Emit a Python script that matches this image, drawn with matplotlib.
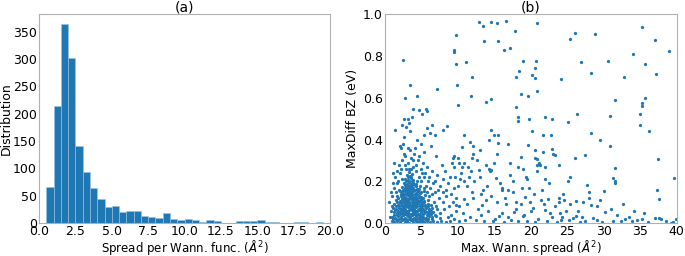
import numpy as np
import matplotlib
matplotlib.use("Agg")
import matplotlib.pyplot as plt

# ── (a) histogram of spread per Wannier function ─────────────
bin_edges = np.arange(0.5, 20.01, 0.5)
bin_counts = [67, 215, 363, 301, 141, 93, 64, 44, 30, 32,
              21, 22, 22, 14, 11, 9, 19, 8, 6, 8,
              6, 3, 5, 4, 0, 0, 4, 4, 4, 6,
              2, 3, 0, 0, 3, 2, 1, 3, 0]

# ── (b) scatter: max spread vs MaxDiff BZ ───────────────────
# dense cluster near small spreads
core = [
    (0.9, 0.01), (1.3, 0.005), (1.7, 0.012), (2.1, 0.004), (2.4, 0.015), (2.7, 0.006), (3.0, 0.011),
    (3.3, 0.003), (3.6, 0.014), (3.9, 0.007), (4.2, 0.012), (4.5, 0.004), (4.8, 0.009), (5.1, 0.013),
    (5.4, 0.005), (5.8, 0.010), (6.2, 0.004), (6.6, 0.012), (7.1, 0.006), (7.7, 0.009), (8.3, 0.004),
    (8.9, 0.011),
    (1.0, 0.032), (1.4, 0.027), (1.8, 0.035), (2.2, 0.029), (2.5, 0.038), (2.8, 0.026), (3.1, 0.034),
    (3.4, 0.030), (3.7, 0.039), (4.0, 0.025), (4.3, 0.033), (4.6, 0.028), (4.9, 0.036), (5.2, 0.031),
    (5.6, 0.027), (6.0, 0.035), (6.5, 0.029), (7.0, 0.033), (7.6, 0.026),
    (1.2, 0.052), (1.6, 0.048), (2.0, 0.055), (2.3, 0.047), (2.6, 0.053), (2.9, 0.049), (3.2, 0.056),
    (3.5, 0.046), (3.8, 0.054), (4.1, 0.050), (4.4, 0.057), (4.7, 0.045), (5.0, 0.052), (5.3, 0.048),
    (5.7, 0.055), (6.1, 0.049), (6.6, 0.053),
    (1.1, 0.072), (1.5, 0.068), (1.9, 0.075), (2.2, 0.066), (2.5, 0.073), (2.8, 0.069), (3.1, 0.076),
    (3.4, 0.067), (3.7, 0.074), (4.0, 0.070), (4.3, 0.077), (4.6, 0.066), (4.9, 0.072), (5.2, 0.069),
    (5.6, 0.074), (6.0, 0.067), (6.4, 0.071), (7.2, 0.068),
    (1.3, 0.092), (1.8, 0.088), (2.1, 0.095), (2.4, 0.087), (2.7, 0.093), (3.0, 0.089), (3.3, 0.096),
    (3.6, 0.086), (3.9, 0.094), (4.2, 0.090), (4.5, 0.097), (4.8, 0.088), (5.1, 0.093), (5.5, 0.087),
    (5.9, 0.092), (6.3, 0.089),
    (1.5, 0.112), (2.0, 0.108), (2.3, 0.115), (2.6, 0.107), (2.9, 0.113), (3.2, 0.109), (3.5, 0.116),
    (3.8, 0.106), (4.1, 0.114), (4.4, 0.110), (4.7, 0.105), (5.0, 0.113), (5.4, 0.108), (5.9, 0.111),
    (1.7, 0.132), (2.2, 0.128), (2.5, 0.135), (2.8, 0.127), (3.1, 0.133), (3.4, 0.129), (3.7, 0.136),
    (4.0, 0.126), (4.3, 0.134), (4.6, 0.130), (5.0, 0.127), (5.5, 0.133),
    (2.0, 0.152), (2.4, 0.148), (2.7, 0.155), (3.0, 0.147), (3.3, 0.153), (3.6, 0.149), (3.9, 0.156),
    (4.2, 0.146), (4.5, 0.152), (4.9, 0.148), (5.3, 0.155),
    (2.3, 0.172), (2.7, 0.168), (3.0, 0.175), (3.3, 0.167), (3.6, 0.173), (3.9, 0.169), (4.2, 0.176),
    (4.6, 0.166),
    (2.6, 0.192), (3.0, 0.188), (3.3, 0.195), (3.6, 0.187), (3.9, 0.193), (4.3, 0.189),
    (2.8, 0.212), (3.2, 0.208), (3.5, 0.215), (3.9, 0.207),
    (3.0, 0.232), (3.4, 0.228), (3.7, 0.235),
]

# points in between the rows of the cluster, to fill it in
core_fill = [
    (1.15, 0.020), (1.55, 0.018), (1.95, 0.022), (2.35, 0.020), (2.65, 0.019), (2.95, 0.021),
    (3.25, 0.018), (3.55, 0.022), (3.85, 0.020), (4.15, 0.019), (4.45, 0.021), (4.75, 0.018),
    (5.05, 0.022), (5.45, 0.020), (5.95, 0.019), (6.45, 0.021),
    (1.25, 0.041), (1.65, 0.040), (2.05, 0.043), (2.45, 0.041), (2.75, 0.042), (3.05, 0.040),
    (3.35, 0.043), (3.65, 0.041), (3.95, 0.042), (4.25, 0.040), (4.55, 0.043), (4.85, 0.041),
    (5.25, 0.042), (5.75, 0.040), (6.35, 0.042),
    (1.35, 0.061), (1.75, 0.060), (2.15, 0.062), (2.45, 0.061), (2.75, 0.063), (3.05, 0.060),
    (3.35, 0.062), (3.65, 0.061), (3.95, 0.063), (4.25, 0.060), (4.55, 0.062), (4.85, 0.061),
    (5.15, 0.063), (5.55, 0.060), (6.05, 0.062),
    (1.45, 0.081), (1.95, 0.080), (2.35, 0.082), (2.65, 0.081), (2.95, 0.083), (3.25, 0.080),
    (3.55, 0.082), (3.85, 0.081), (4.15, 0.083), (4.45, 0.080), (4.75, 0.082), (5.05, 0.081),
    (5.45, 0.083), (5.85, 0.080),
    (1.65, 0.101), (2.15, 0.100), (2.45, 0.102), (2.75, 0.101), (3.05, 0.103), (3.35, 0.100),
    (3.65, 0.102), (3.95, 0.101), (4.25, 0.103), (4.55, 0.100), (4.95, 0.102), (5.35, 0.101),
    (1.85, 0.121), (2.35, 0.120), (2.65, 0.122), (2.95, 0.121), (3.25, 0.123), (3.55, 0.120),
    (3.85, 0.122), (4.15, 0.121), (4.45, 0.123), (4.85, 0.120), (5.25, 0.122),
    (2.15, 0.141), (2.55, 0.140), (2.85, 0.142), (3.15, 0.141), (3.45, 0.143), (3.75, 0.140),
    (4.05, 0.142), (4.35, 0.141), (4.75, 0.143),
    (2.45, 0.161), (2.85, 0.160), (3.15, 0.162), (3.45, 0.161), (3.75, 0.163), (4.05, 0.160),
    (4.45, 0.162),
    (2.75, 0.181), (3.15, 0.180), (3.45, 0.182), (3.75, 0.181), (4.1, 0.183),
    (2.95, 0.201), (3.35, 0.200), (3.75, 0.202), (3.1, 0.221), (3.6, 0.222), (3.3, 0.245),
]

# looser halo around the cluster
halo = [
    (0.6, 0.10), (0.8, 0.06), (0.7, 0.03), (1.0, 0.13), (1.2, 0.17), (1.4, 0.22), (1.1, 0.19),
    (1.6, 0.25), (1.9, 0.28), (2.2, 0.36), (2.0, 0.37), (2.4, 0.30), (2.6, 0.33), (2.9, 0.26),
    (3.1, 0.29), (3.2, 0.36), (3.4, 0.35), (3.6, 0.31), (3.8, 0.27), (4.0, 0.33), (4.3, 0.25),
    (4.5, 0.30), (4.1, 0.36), (4.4, 0.40), (4.7, 0.32), (4.9, 0.26), (5.2, 0.29), (5.5, 0.24),
    (5.8, 0.27), (6.1, 0.22), (6.4, 0.25), (6.8, 0.20), (7.2, 0.23), (7.6, 0.18), (8.0, 0.21),
    (8.3, 0.16), (8.7, 0.19), (9.1, 0.14), (9.5, 0.17), (9.8, 0.12), (6.9, 0.15), (7.4, 0.12),
    (7.9, 0.10), (8.4, 0.13), (8.8, 0.08), (9.3, 0.10), (9.7, 0.06), (6.7, 0.10), (7.5, 0.05),
    (8.1, 0.07), (9.0, 0.04), (10.2, 0.08), (5.0, 0.20), (5.6, 0.18), (6.2, 0.17), (5.3, 0.22),
    (6.0, 0.13), (1.3, 0.29), (1.5, 0.15), (1.8, 0.20), (2.1, 0.24), (0.9, 0.08), (2.6, 0.41),
    (2.9, 0.46), (3.4, 0.44), (3.7, 0.51), (3.2, 0.50), (2.5, 0.38), (4.9, 0.38), (5.4, 0.34),
    (6.3, 0.37), (7.0, 0.32), (7.8, 0.28), (8.2, 0.25), (9.2, 0.29), (9.6, 0.22), (10.0, 0.18),
    (10.5, 0.27), (10.8, 0.20),
    (1.4, 0.445), (2.3, 0.47), (2.6, 0.50), (3.3, 0.48), (3.9, 0.545), (4.7, 0.54), (5.1, 0.52),
    (5.6, 0.545), (5.8, 0.535), (5.7, 0.455), (6.5, 0.47), (8.5, 0.465), (8.0, 0.445), (6.2, 0.43),
    (6.9, 0.42), (5.4, 0.42),
    (2.2, 0.26), (2.7, 0.28), (3.5, 0.26), (4.2, 0.28), (4.6, 0.22), (5.1, 0.24), (5.9, 0.20),
    (6.5, 0.14), (7.0, 0.08), (7.3, 0.16), (8.6, 0.03), (6.8, 0.04), (1.6, 0.19), (2.3, 0.21),
    (4.8, 0.18), (5.7, 0.15), (6.3, 0.06), (7.9, 0.15), (8.9, 0.22), (3.8, 0.30), (2.8, 0.32),
    (1.9, 0.16), (0.8, 0.15), (1.1, 0.24), (4.4, 0.20), (5.3, 0.17), (6.6, 0.19), (3.3, 0.26),
]

# sparse points at larger spreads
tail = [
    (2.5, 0.78), (3.4, 0.66), (2.7, 0.60), (4.4, 0.61), (9.4, 0.83), (9.5, 0.82), (9.7, 0.90),
    (9.7, 0.76), (9.9, 0.66), (10.0, 0.565), (11.1, 0.77), (11.9, 0.70), (11.8, 0.61), (12.9, 0.96),
    (13.5, 0.945), (13.6, 0.87), (14.5, 0.96), (15.4, 0.955), (16.6, 0.965), (15.5, 0.87),
    (16.3, 0.83), (17.1, 0.84), (17.8, 0.92), (13.8, 0.58), (14.6, 0.595), (17.9, 0.70),
    (18.4, 0.73), (18.9, 0.775), (17.9, 0.555), (18.3, 0.51), (18.2, 0.49), (18.7, 0.62),
    (19.6, 0.61), (19.7, 0.50), (20.1, 0.71), (20.5, 0.74), (20.5, 0.695), (20.7, 0.775),
    (20.9, 0.955), (20.9, 0.63), (20.2, 0.44), (22.0, 0.51), (22.9, 0.50), (24.1, 0.69),
    (25.1, 0.485), (25.4, 0.88), (26.0, 0.91), (26.3, 0.52), (26.9, 0.77), (28.3, 0.72),
    (28.8, 0.905), (30.6, 0.775), (30.9, 0.515), (31.5, 0.59), (32.7, 0.70), (34.0, 0.81),
    (35.3, 0.94), (34.9, 0.52), (35.0, 0.47), (35.2, 0.575), (35.3, 0.56), (35.7, 0.60),
    (35.7, 0.76), (36.2, 0.44), (37.0, 0.875), (37.1, 0.715), (38.9, 0.825), (28.3, 0.43),
    (29.5, 0.40), (30.9, 0.37), (27.4, 0.325), (26.0, 0.31), (7.2, 0.64),
    (10.8, 0.42), (11.6, 0.39), (12.1, 0.37), (9.5, 0.32), (10.2, 0.29), (11.9, 0.31), (13.0, 0.35),
    (14.2, 0.40), (14.6, 0.445), (15.0, 0.42), (15.5, 0.42), (15.5, 0.385), (15.3, 0.33),
    (16.8, 0.38), (17.2, 0.29), (18.6, 0.315), (19.6, 0.375), (20.5, 0.35), (20.8, 0.305),
    (21.2, 0.28), (21.6, 0.34), (21.7, 0.42), (22.7, 0.42), (22.9, 0.355), (23.3, 0.325),
    (23.9, 0.28), (18.9, 0.26), (14.6, 0.255), (13.9, 0.28), (10.0, 0.31), (10.5, 0.365),
    (20.8, 0.28), (22.0, 0.27), (19.5, 0.21), (25.1, 0.20), (25.3, 0.22), (31.2, 0.215),
    (31.5, 0.20), (31.6, 0.19), (31.6, 0.265), (39.6, 0.215), (37.4, 0.305), (37.3, 0.16),
    (37.5, 0.115), (30.0, 0.155), (29.5, 0.11), (27.9, 0.15), (27.7, 0.185), (26.2, 0.105),
    (27.2, 0.10), (28.3, 0.085), (31.0, 0.07), (30.2, 0.055), (34.1, 0.06), (35.2, 0.02),
    (37.0, 0.025), (37.6, 0.025), (37.8, 0.02), (39.9, 0.02), (33.8, 0.012), (32.9, 0.02),
    (32.3, 0.012), (31.3, 0.012), (29.1, 0.015), (28.5, 0.025), (27.4, 0.012), (26.2, 0.033),
    (25.8, 0.025), (25.2, 0.017), (24.1, 0.015), (39.2, 0.0),
    (9.5, 0.27), (9.3, 0.31), (10.4, 0.24), (10.8, 0.29), (11.4, 0.27), (11.8, 0.25), (12.0, 0.33),
    (12.6, 0.30), (10.3, 0.21), (11.2, 0.18), (12.2, 0.20), (13.0, 0.22), (13.5, 0.16), (14.2, 0.26),
    (14.4, 0.25), (14.9, 0.29), (15.8, 0.19), (16.1, 0.17), (16.9, 0.16), (17.5, 0.15), (18.2, 0.27),
    (18.8, 0.17), (19.4, 0.22), (19.8, 0.17), (20.4, 0.14), (20.6, 0.31), (21.1, 0.29), (22.0, 0.21),
    (22.5, 0.19), (23.0, 0.33), (23.9, 0.12), (24.6, 0.11), (25.3, 0.09), (20.9, 0.25), (21.5, 0.16),
    (17.6, 0.20), (16.4, 0.12), (15.4, 0.10), (14.6, 0.13), (13.8, 0.11), (12.7, 0.07), (12.1, 0.12),
    (11.3, 0.09), (10.7, 0.05), (11.7, 0.03), (13.1, 0.04), (14.1, 0.06), (15.1, 0.02), (16.0, 0.05),
    (16.8, 0.03), (17.9, 0.07), (18.6, 0.09), (19.1, 0.04), (20.0, 0.06), (21.0, 0.02), (21.8, 0.09),
    (22.6, 0.05), (23.3, 0.08), (24.2, 0.03), (24.8, 0.06), (12.5, 0.015), (13.6, 0.01), (14.8, 0.012),
    (16.3, 0.008), (17.3, 0.015), (18.3, 0.01), (19.5, 0.012), (20.5, 0.006), (22.2, 0.012),
    (23.6, 0.008), (10.1, 0.01), (11.0, 0.015), (9.4, 0.02), (15.6, 0.035), (18.9, 0.035),
    (22.9, 0.03), (13.3, 0.085), (16.6, 0.09), (19.9, 0.10), (21.4, 0.11), (11.9, 0.15), (14.0, 0.18),
    (17.1, 0.23), (19.2, 0.125), (18.0, 0.10), (23.8, 0.10), (24.4, 0.14), (21.9, 0.065), (15.2, 0.215),
    (10.9, 0.115), (9.8, 0.085), (20.3, 0.075), (17.7, 0.055), (16.0, 0.16), (13.2, 0.14),
    (12.9, 0.255), (11.5, 0.22), (22.4, 0.115), (24.0, 0.05),
    (26.5, 0.06), (27.0, 0.03), (28.0, 0.12), (29.0, 0.08), (31.8, 0.04), (32.6, 0.09), (33.5, 0.03),
    (34.5, 0.015), (36.0, 0.005), (38.5, 0.01), (39.5, 0.005), (26.8, 0.005), (29.8, 0.005),
    (35.5, 0.05),
]

BLUE = "#1f77b4"
SPINE = "#b0b0b0"
FS = 9

plt.rcParams["font.family"] = "DejaVu Sans"
plt.rcParams["font.size"] = FS

fig = plt.figure(figsize=(6.85, 2.56), dpi=100)
ax1 = fig.add_axes([0.057, 0.128, 0.425, 0.817])
ax2 = fig.add_axes([0.562, 0.128, 0.426, 0.817])

for ax in (ax1, ax2):
    for spine in ax.spines.values():
        spine.set_edgecolor(SPINE)
    ax.tick_params(length=0, pad=1.5, labelsize=FS)

# ── (a) ─────────────────────────────────────────────────────
ax1.hist(bin_edges[:-1], bins=bin_edges, weights=bin_counts,
         color=BLUE, edgecolor="#9cc3e0", linewidth=0.4)
ax1.set_xlim(0, 20)
ax1.set_ylim(0, 382)
ax1.set_xticks(np.arange(0, 20.1, 2.5))
ax1.set_yticks(range(0, 351, 50))
ax1.set_xlabel(r"Spread per Wann. func. ($\AA^2$)", fontsize=8.5, labelpad=0)
ax1.set_ylabel("Distribution", labelpad=0)
ax1.set_title("(a)", fontsize=10, pad=0)

# ── (b) ─────────────────────────────────────────────────────
pts = core + core_fill + halo + tail
xs = [p[0] for p in pts]
ys = [p[1] for p in pts]
ax2.scatter(xs, ys, s=5.5, color=BLUE, linewidths=0)
ax2.set_xlim(0, 40)
ax2.set_ylim(0, 1.0)
ax2.set_xticks(range(0, 41, 5))
ax2.set_yticks(np.arange(0, 1.01, 0.2))
ax2.set_xlabel(r"Max. Wann. spread ($\AA^2$)", fontsize=8.5, labelpad=0)
ax2.set_ylabel("MaxDiff BZ (eV)", labelpad=3)
ax2.set_title("(b)", fontsize=10, pad=0)

fig.savefig("out.png", dpi=100)
